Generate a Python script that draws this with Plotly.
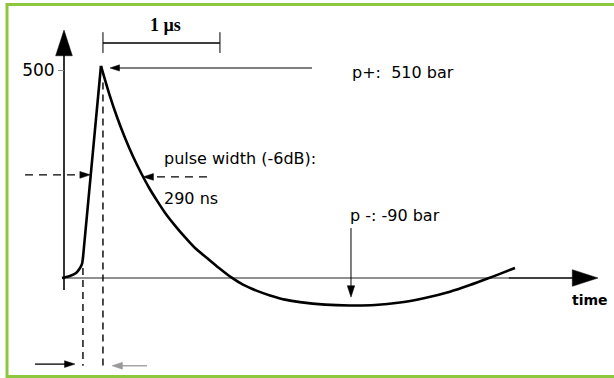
import plotly.graph_objects as go

# ---------------- data (time in ns, pressure in bar) ----------------
time_ns = [-17, 51, 103, 137, 154, 162,
           316, 385, 453, 521, 590, 658, 727, 795, 863, 949, 1034, 1120, 1222,
           1325, 1427, 1530, 1650, 1761, 1889, 2017, 2231, 2444, 2658, 2872,
           3085, 3299, 3470, 3615, 3726, 3855]
pressure_bar = [0, 5, 12, 24, 34, 48,
                510, 444, 387, 337, 292, 253, 217, 186, 157, 126, 98, 72, 48,
                24, 2, -16, -31, -42, -52, -58, -64, -66, -65, -59,
                -48, -33, -17, -2, 10, 24]

y_tick_values = [500]
y_tick_labels = ["500"]

peak_label = "p+:\u00a0 510 bar"
trough_label = "p -: -90 bar"
width_label = "pulse width (-6dB):"
width_value = "290 ns"
time_label = "time"
scale_label = "1 µs"
scale_bar_ns = [333, 1333]          # 1 µs scale bar
rise_marks_ns = [162, 333]          # dashed verticals (foot / peak)
half_level_bar = [248, 243]         # -6 dB level on rise / decay edge
half_points_ns = [225, 675]

# ---------------- figure ----------------
W, H = 614, 378
XR = [-547, 4701]
YR = [-240.4, 668.3]
BLACK = "#000000"
FONT = "DejaVu Sans"

fig = go.Figure()


def arrow_line(xs, ys, color=BLACK, width=1.2, head=10, dash=None):
    fig.add_trace(go.Scatter(
        x=xs, y=ys, mode="lines+markers",
        line=dict(color=color, width=width, dash=dash),
        marker=dict(symbol="arrow", size=[0] * (len(xs) - 1) + [head],
                    angleref="previous", color=color, opacity=1,
                    line=dict(width=0.5, color=color)),
        hoverinfo="skip", showlegend=False))


def plain_line(xs, ys, color=BLACK, width=1.2, dash=None):
    fig.add_trace(go.Scatter(
        x=xs, y=ys, mode="lines",
        line=dict(color=color, width=width, dash=dash),
        hoverinfo="skip", showlegend=False))


# axes drawn as arrows
arrow_line([0, 0], [-29, 596], width=1.6, head=27)
plain_line([-17, 3800], [0, 0], color="#222222", width=1.2)
arrow_line([3800, 4564], [0, 0], width=1.6, head=27)

# pulse curve: rising edge then decaying part
ipk = pressure_bar.index(max(pressure_bar))
fig.add_trace(go.Scatter(x=time_ns[:ipk + 1], y=pressure_bar[:ipk + 1], mode="lines",
                         line=dict(color=BLACK, width=2.6, shape="spline", smoothing=0.4),
                         hoverinfo="skip", showlegend=False))
fig.add_trace(go.Scatter(x=time_ns[ipk:], y=pressure_bar[ipk:], mode="lines",
                         line=dict(color=BLACK, width=2.6, shape="spline", smoothing=0.6),
                         hoverinfo="skip", showlegend=False))

# dashed vertical markers
plain_line([rise_marks_ns[0]] * 2, [24, -211], width=1.4, dash="7px,5px")
plain_line([rise_marks_ns[1]] * 2, [470, -211], width=1.4, dash="7px,5px")

# -6 dB pulse width markers
arrow_line([-333, half_points_ns[0]], [half_level_bar[0]] * 2, width=1.3, head=11, dash="8px,6px")
arrow_line([1222, half_points_ns[1]], [half_level_bar[1]] * 2, width=1.3, head=11, dash="8px,6px")

# peak pointer and trough pointer
arrow_line([2120, 393], [505, 505], width=1.1, head=10)
arrow_line([2453, 2453], [120, -46], width=1.0, head=12)

# bottom rise-time arrows
arrow_line([-248, 94], [-207, -207], width=1.3, head=11)
arrow_line([709, 410], [-211, -211], color="#999999", width=1.3, head=11)

# 1 µs scale bar
plain_line(scale_bar_ns, [565, 565], width=1.4)
plain_line([scale_bar_ns[0]] * 2, [541, 591], width=1.0)
plain_line([scale_bar_ns[1]] * 2, [541, 591], width=1.0)


# text labels
def label(x, y, text, size=16, family=FONT, xanchor="left", bold=False):
    fig.add_annotation(x=x, y=y, xref="x", yref="y", text=f"<b>{text}</b>" if bold else text,
                       showarrow=False, xanchor=xanchor, yanchor="middle",
                       font=dict(family=family, size=size, color=BLACK))


label(2444, 495, peak_label)
label(838, 288, width_label)
label(838, 192, width_value)
label(2427, 151, trough_label)
label(4325, -53, time_label, size=14, bold=True)
label(870, 608, scale_label, size=18, family="Liberation Serif", xanchor="center", bold=True)

# green frame
fig.add_shape(type="rect", xref="paper", yref="paper",
              x0=7 / W, x1=1.02, y0=1 - 376.5 / H, y1=1 - 4.5 / H,
              line=dict(color="#8DC63F", width=3))

fig.update_layout(
    width=W, height=H, margin=dict(l=0, r=0, t=0, b=0),
    paper_bgcolor="white", plot_bgcolor="white",
    xaxis=dict(range=XR, visible=False, fixedrange=True),
    yaxis=dict(range=YR, anchor="free", position=(0 - XR[0]) / (XR[1] - XR[0]),
               showgrid=False, zeroline=False, showline=False,
               tickvals=y_tick_values, ticktext=y_tick_labels,
               ticks="outside", ticklen=6, tickwidth=1, tickcolor="#888888",
               tickfont=dict(family=FONT, size=17, color=BLACK), fixedrange=True),
    showlegend=False,
)

fig.write_html("out.html", config={"displayModeBar": False},
               post_script="document.body.style.margin='0';")
